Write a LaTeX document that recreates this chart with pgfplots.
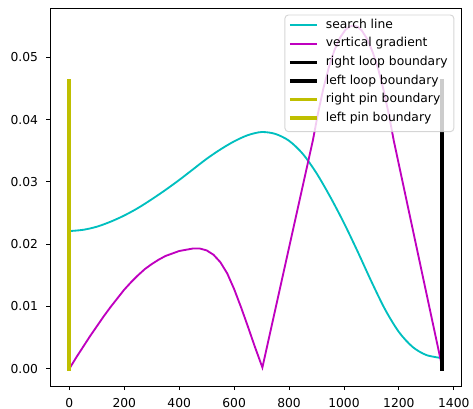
\documentclass[border=0pt]{standalone}
\usepackage{fontspec}
\setmainfont{DejaVu Sans}
\usepackage{pgfplots}
\pgfplotsset{compat=1.18}

% matplotlib single-letter colours
\definecolor{mplcyan}{rgb}{0,0.75,0.75}
\definecolor{mplmagenta}{rgb}{0.75,0,0.75}
\definecolor{mplyellow}{rgb}{0.75,0.75,0}
\definecolor{legframe}{rgb}{0.8,0.8,0.8}

\pgfplotsset{
  thinline/.style={line width=1.33bp},
  boundline/.style={line width=2.66bp, line cap=rect},
}

\begin{document}
\begin{tikzpicture}[font=\fontsize{8.86bp}{10.6bp}\selectfont]
\path[use as bounding box] (-36.5bp,-16.6bp) rectangle (304.1bp,277.9bp);
\begin{axis}[
  at={(0,0)}, anchor=south west,
  scale only axis, width=295.4bp, height=271.9bp,
  xmin=-67.9, xmax=1425.9, ymin=-0.00276, ymax=0.05786,
  xtick={0,200,400,600,800,1000,1200,1400},
  ytick={0,0.01,0.02,0.03,0.04,0.05},
  scaled y ticks=false,
  /pgf/number format/assume math mode=true,
  /pgf/number format/1000 sep={},
  yticklabel={\pgfmathprintnumber[fixed,fixed zerofill,precision=2]{\tick}},
  xticklabel style={anchor=north, inner sep=0pt, yshift=-5.5bp},
  yticklabel style={anchor=east, inner sep=0pt, xshift=-5.8bp},
  tick align=outside, xtick pos=bottom, ytick pos=left,
  major tick length=3.1bp,
  tick style={black, line width=0.6bp},
  axis line style={line width=0.6bp},
]

% search line
\addplot[draw=mplcyan, thinline, smooth] coordinates {
  (0,0.0221) (50,0.0223) (100,0.0228) (150,0.0236) (200,0.0246)
  (250,0.0258) (300,0.0272) (350,0.0287) (400,0.0303) (450,0.0320)
  (500,0.0337) (550,0.0352) (600,0.0365) (650,0.0375) (700,0.0380)
  (750,0.0377) (800,0.0366) (850,0.0345) (900,0.0314) (950,0.0276)
  (1000,0.0234) (1050,0.0188) (1100,0.0140) (1150,0.0095)
  (1200,0.0059) (1250,0.0035) (1300,0.0022) (1358,0.0017)
};

% vertical gradient
\addplot[draw=mplmagenta, thinline] coordinates {
  (0,0.0000) (25,0.0018) (50,0.0035) (75,0.0052) (100,0.0068)
  (125,0.0084) (150,0.0099) (175,0.0113) (200,0.0127) (225,0.0139)
  (250,0.0150) (275,0.0160) (300,0.0168) (325,0.0175) (350,0.0181)
  (375,0.0185) (400,0.0189) (425,0.0191) (450,0.0193) (475,0.0193)
  (500,0.0190) (525,0.0183) (550,0.0171) (575,0.0153) (600,0.0128)
  (625,0.0099) (650,0.0068) (675,0.0036) (703,0.0002)
  (887,0.0367) (905,0.0409) (925,0.0450) (945,0.0484)
  (965,0.0511) (985,0.0531) (1005,0.0544) (1020,0.0549) (1034,0.0551)
  (1050,0.0549) (1065,0.0543) (1085,0.0529) (1105,0.0508) (1125,0.0481)
  (1145,0.0446) (1165,0.0405) (1181,0.0367) (1358,0.0002)
};

% loop boundaries (right and left coincide)
\addplot[draw=black, boundline] coordinates {(1358,0) (1358,0.0462)};
\addplot[draw=black, boundline] coordinates {(1358,0) (1358,0.0462)};
% pin boundaries (right and left coincide)
\addplot[draw=mplyellow, boundline] coordinates {(0,0) (0,0.0462)};
\addplot[draw=mplyellow, boundline] coordinates {(0,0) (0,0.0462)};
\end{axis}

% legend box in the upper right corner, semi-transparent like matplotlib's
\path[draw=legframe, draw opacity=0.8, fill=white, fill opacity=0.8,
      line width=0.7bp, rounded corners=2.5bp]
  (168.7bp,183.1bp) rectangle (290.3bp,267.1bp);
\draw[mplcyan, line width=1.33bp]    (172.3bp,259.9bp) -- (191.5bp,259.9bp);
\draw[mplmagenta, line width=1.33bp] (172.3bp,246.5bp) -- (191.5bp,246.5bp);
\draw[black, line width=2.66bp]      (172.3bp,233.0bp) -- (191.5bp,233.0bp);
\draw[black, line width=2.66bp]      (172.3bp,219.6bp) -- (191.5bp,219.6bp);
\draw[mplyellow, line width=2.66bp]  (172.3bp,206.2bp) -- (191.5bp,206.2bp);
\draw[mplyellow, line width=2.66bp]  (172.3bp,192.7bp) -- (191.5bp,192.7bp);
\begin{scope}[every node/.style={anchor=base west, inner sep=0pt}]
  \node at (198.0bp,257.5bp) {search line};
  \node at (198.0bp,244.1bp) {vertical gradient};
  \node at (198.0bp,230.6bp) {right loop boundary};
  \node at (198.0bp,217.2bp) {left loop boundary};
  \node at (198.0bp,203.8bp) {right pin boundary};
  \node at (198.0bp,190.3bp) {left pin boundary};
\end{scope}
\end{tikzpicture}
\end{document}
